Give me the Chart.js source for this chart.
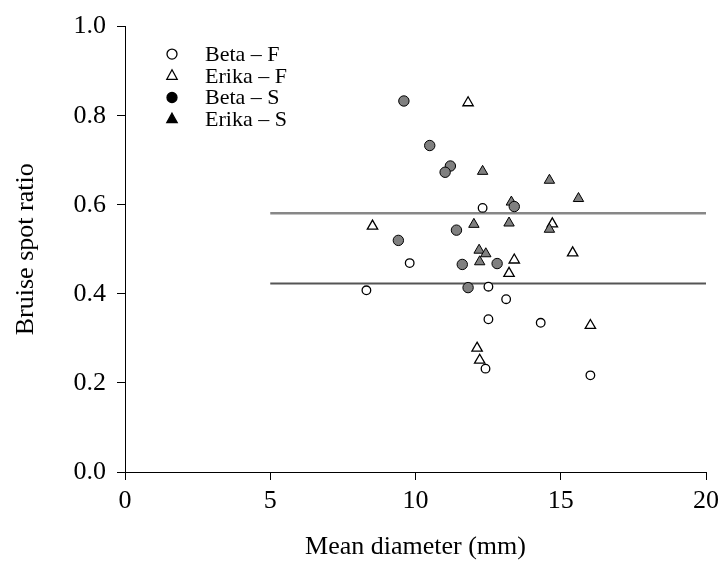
<!DOCTYPE html>
<html>
<head>
<meta charset="utf-8">
<script src="https://cdn.jsdelivr.net/npm/chart.js@4.4.0/dist/chart.umd.min.js"></script>
<style>
  html, body { margin: 0; padding: 0; background: #ffffff; }
  #wrap { width: 721px; height: 569px; }
</style>
</head>
<body>
<div id="wrap"><canvas id="chart-area-1" width="721" height="569"></canvas></div>
<script>

// data
var beta_f_x  = [8.31, 9.80, 12.31, 12.51, 13.12, 12.51, 14.31, 12.41, 16.02];
var beta_f_y  = [0.408, 0.469, 0.593, 0.416, 0.388, 0.343, 0.335, 0.232, 0.217];

var erika_f_x = [11.81, 8.52, 13.40, 13.22, 14.71, 15.41, 16.02, 12.12, 12.21];
var erika_f_y = [0.829, 0.552, 0.476, 0.446, 0.557, 0.492, 0.329, 0.278, 0.251];

var beta_s_x  = [9.60, 10.49, 11.20, 11.02, 13.40, 11.41, 9.41, 11.61, 12.81, 11.81];
var beta_s_y  = [0.833, 0.733, 0.687, 0.673, 0.596, 0.543, 0.520, 0.466, 0.468, 0.414];

var erika_s_x = [12.31, 13.30, 12.01, 13.22, 12.19, 12.42, 12.21, 14.61, 15.61, 14.61];
var erika_s_y = [0.675, 0.606, 0.556, 0.559, 0.498, 0.490, 0.472, 0.655, 0.614, 0.545];

var ref_x      = [5, 20];
var ref_upper  = 0.581;
var ref_lower  = 0.423;

var series_names = ["Beta \u2013 F", "Erika \u2013 F", "Beta \u2013 S", "Erika \u2013 S"];

var x_ticks = [0, 5, 10, 15, 20];
var y_ticks = [0, 0.2, 0.4, 0.6, 0.8, 1.0];


var FONT = "'Liberation Serif', 'Times New Roman', serif";

function to_points(xs, ys) {
    var out = [];
    for (var i = 0; i < xs.length; i++) {
        out.push({x: xs[i], y: ys[i]});
    }
    return out;
}

function flat_line(y) {
    return ref_x.map(function(x) { return {x: x, y: y}; });
}

// legend drawn by hand, top left inside the plot
var legendPlugin = {
    id: 'cornerLegend',
    afterDraw: function(chart) {
        var ctx  = chart.ctx;
        var area = chart.chartArea;
        var styles = [
            {shape: 'circle',   fill: '#ffffff'},
            {shape: 'triangle', fill: '#ffffff'},
            {shape: 'circle',   fill: '#000000'},
            {shape: 'triangle', fill: '#000000'}
        ];
        ctx.save();
        ctx.font = '22px ' + FONT;
        ctx.textBaseline = 'middle';
        ctx.fillStyle = '#000';
        for (var i = 0; i < series_names.length; i++) {
            var cx = area.left + 47;
            var cy = area.top + 27.5 + i * 21.7;
            ctx.beginPath();
            if (styles[i].shape == 'circle') {
                ctx.arc(cx, cy, 5, 0, Math.PI * 2);
            }
            else {
                ctx.moveTo(cx, cy - 6);
                ctx.lineTo(cx + 5.2, cy + 3.5);
                ctx.lineTo(cx - 5.2, cy + 3.5);
                ctx.closePath();
            }
            ctx.fillStyle = styles[i].fill;
            ctx.fill();
            ctx.lineWidth = 1.3;
            ctx.strokeStyle = '#000';
            ctx.stroke();
            ctx.fillStyle = '#000';
            ctx.fillText(series_names[i], area.left + 80, cy + 1);
        }
        ctx.restore();
    }
};

var config = {
    type: 'scatter',
    data: {
        datasets: [
            {
                label: series_names[2],
                data: to_points(beta_s_x, beta_s_y),
                pointStyle: 'circle',
                pointRadius: 5.2,
                pointBackgroundColor: '#808080',
                pointBorderColor: '#000',
                pointBorderWidth: 1,
                order: 1
            },
            {
                label: series_names[0],
                data: to_points(beta_f_x, beta_f_y),
                pointStyle: 'circle',
                pointRadius: 4.3,
                pointBackgroundColor: '#ffffff',
                pointBorderColor: '#000',
                pointBorderWidth: 1.3,
                order: 2
            },
            {
                label: series_names[3],
                data: to_points(erika_s_x, erika_s_y),
                pointStyle: 'triangle',
                pointRadius: 6,
                pointBackgroundColor: '#808080',
                pointBorderColor: '#000',
                pointBorderWidth: 1,
                order: 3
            },
            {
                label: series_names[1],
                data: to_points(erika_f_x, erika_f_y),
                pointStyle: 'triangle',
                pointRadius: 6,
                pointBackgroundColor: '#ffffff',
                pointBorderColor: '#000',
                pointBorderWidth: 1.3,
                order: 4
            },
            {
                type: 'line',
                label: 'upper',
                data: flat_line(ref_upper),
                borderColor: '#878787',
                borderWidth: 2.5,
                pointRadius: 0,
                fill: false,
                order: 10
            },
            {
                type: 'line',
                label: 'lower',
                data: flat_line(ref_lower),
                borderColor: '#555555',
                borderWidth: 2,
                pointRadius: 0,
                fill: false,
                order: 10
            }
        ]
    },
    options: {
        responsive: false,
        animation: false,
        layout: {
            padding: {left: 0, right: 15, top: 24, bottom: 0}
        },
        plugins: {
            legend: {display: false},
            tooltip: {enabled: false}
        },
        scales: {
            x: {
                type: 'linear',
                min: 0,
                max: 20,
                afterBuildTicks: function(scale) {
                    scale.ticks = x_ticks.map(function(v) { return {value: v}; });
                },
                afterFit: function(scale) {
                    scale.height = 97;
                    scale.paddingLeft = 0;
                    scale.paddingRight = 0;
                },
                grid: {
                    display: true,
                    drawOnChartArea: false,
                    drawTicks: true,
                    tickLength: 8,
                    color: '#000',
                    lineWidth: 1
                },
                border: {display: true, color: '#000', width: 1},
                ticks: {
                    color: '#000',
                    padding: 6,
                    maxRotation: 0,
                    font: {family: FONT, size: 26}
                },
                title: {
                    display: true,
                    text: 'Mean diameter (mm)',
                    color: '#000',
                    font: {family: FONT, size: 26},
                    padding: {top: 0, bottom: 6}
                }
            },
            y: {
                type: 'linear',
                min: 0,
                max: 1,
                afterBuildTicks: function(scale) {
                    scale.ticks = y_ticks.map(function(v) { return {value: v}; });
                },
                afterFit: function(scale) { scale.width = 125; },
                grid: {
                    display: true,
                    drawOnChartArea: false,
                    drawTicks: true,
                    tickLength: 8,
                    color: '#000',
                    lineWidth: 1
                },
                border: {display: true, color: '#000', width: 1},
                ticks: {
                    color: '#000',
                    padding: 11,
                    font: {family: FONT, size: 26},
                    callback: function(v) { return Number(v).toFixed(1); }
                },
                title: {
                    display: true,
                    text: 'Bruise spot ratio',
                    color: '#000',
                    font: {family: FONT, size: 26},
                    padding: {top: 11, bottom: 0}
                }
            }
        }
    },
    plugins: [legendPlugin]
};

var ctx = document.getElementById("chart-area-1").getContext("2d");
window.myScatter = new Chart(ctx, config);

</script>
</body>
</html>
